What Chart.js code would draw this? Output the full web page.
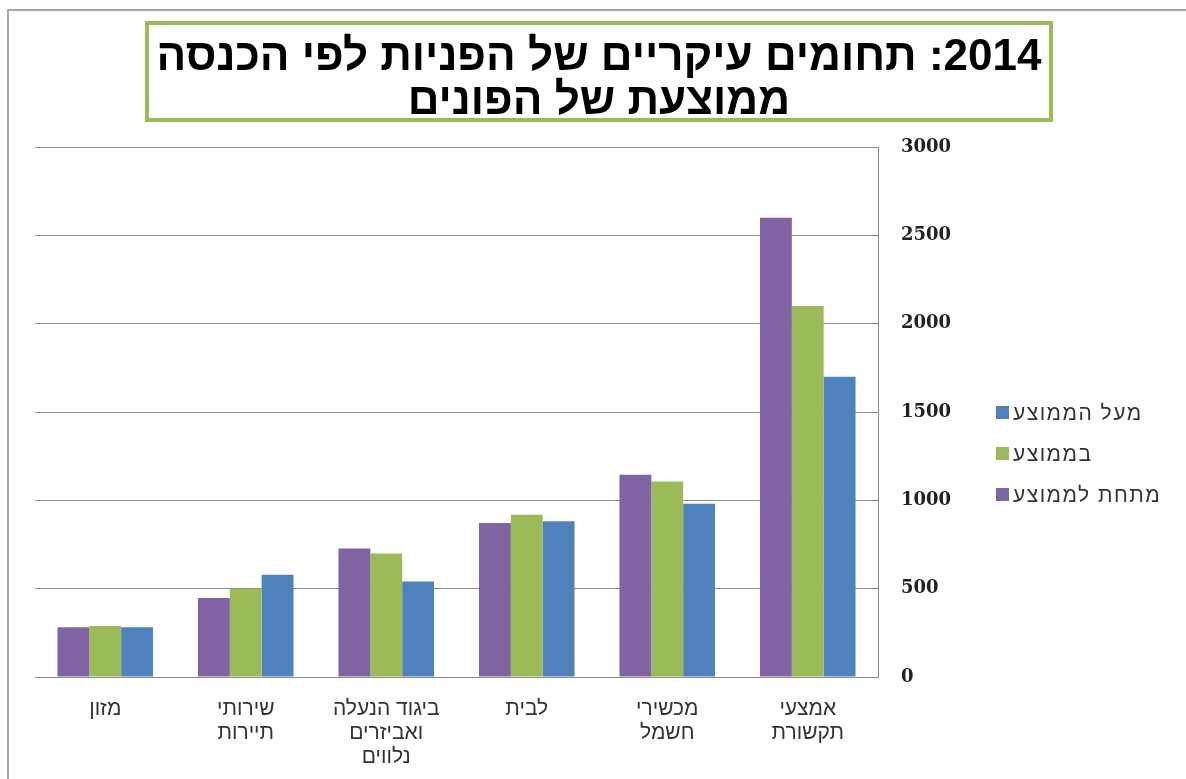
<!DOCTYPE html>
<html>
<head>
<meta charset="utf-8">
<script src="https://cdn.jsdelivr.net/npm/chart.js@4"></script>
<style>
    body { margin: 0; background: #fff; }
    #wrap { position: relative; width: 1186px; height: 779px; overflow: hidden; }
    #frame { position: absolute; left: 7px; top: 9px; right: -10px; bottom: -10px;
             border-left: 2px solid #a6a6a6; border-top: 2px solid #a6a6a6; }
    #title { position: absolute; left: 145px; top: 21px; width: 900px; height: 85px;
             border: 4px solid #9bbb59; text-align: center; direction: rtl;
             font: bold 44px "Liberation Sans", Arial, sans-serif; line-height: 44px;
             padding-top: 8px; color: #000; white-space: nowrap; }
    #legend { position: absolute; left: 996px; top: 392px; direction: ltr;
              font: 21px "Liberation Sans", Arial, sans-serif; color: #333; letter-spacing: 1.5px; }
    #legend div { height: 41px; display: flex; align-items: center; }
    #legend i { display: inline-block; width: 13px; height: 13px; margin-right: 4px; }
    #chart-box { position: absolute; left: 0; top: 0; width: 1186px; height: 779px; }
</style>
</head>
<body>
<div id="wrap">
    <div id="frame"></div>
    <div id="chart-box"><canvas id="bars"></canvas></div>
    <div id="title">2014: תחומים עיקריים של הפניות לפי הכנסה<br>ממוצעת של הפונים</div>
    <div id="legend"></div>
</div>
<script>
    // categories (right to left, like the original)
    const categories = [
        ['אמצעי', 'תקשורת'],
        ['מכשירי', 'חשמל'],
        ['לבית'],
        ['ביגוד הנעלה', 'ואביזרים', 'נלווים'],
        ['שירותי', 'תיירות'],
        ['מזון']
    ];
    const seriesNames = ['מתחת לממוצע', 'בממוצע', 'מעל הממוצע'];
    const belowAvg = [2600, 1145, 872, 728, 447, 282];
    const atAvg    = [2100, 1106, 918, 699, 500, 289];
    const aboveAvg = [1700, 980, 881, 541, 579, 282];
    const yTicks = [0, 500, 1000, 1500, 2000, 2500, 3000];
    const colors = ['#8064a2', '#9bbb59', '#4f81bd'];

    // legend is drawn as html so it can sit where the original has it
    const legendEl = document.getElementById('legend');
    [2, 1, 0].forEach(function (i) {
        const row = document.createElement('div');
        row.innerHTML = '<i style="background:' + colors[i] + '"></i><span dir="rtl">' + seriesNames[i] + '</span>';
        legendEl.appendChild(row);
    });

    const ctx = document.getElementById('bars').getContext('2d');
    new Chart(ctx, {
        type: 'bar',
        data: {
            labels: categories,
            datasets: [belowAvg, atAvg, aboveAvg].map(function (vals, i) {
                return {
                    label: seriesNames[i],
                    data: vals,
                    backgroundColor: colors[i],
                    borderWidth: 0,
                    categoryPercentage: 0.68,
                    barPercentage: 1.0
                };
            })
        },
        options: {
            responsive: true,
            maintainAspectRatio: false,
            animation: false,
            layout: { padding: { left: 35, top: 147, right: 208, bottom: 0 } },
            plugins: { legend: { display: false }, tooltip: { enabled: false } },
            scales: {
                x: {
                    reverse: true,
                    grid: { display: false },
                    border: { color: '#8c8c8c', width: 1 },
                    ticks: {
                        color: '#333',
                        padding: 12,
                        maxRotation: 0,
                        font: { family: '"Liberation Sans", Arial, sans-serif', size: 21, lineHeight: 1.15 }
                    },
                    afterFit: function (s) { s.height = 102; }
                },
                y: {
                    position: 'right',
                    min: 0,
                    max: 3000,
                    afterBuildTicks: function (s) { s.ticks = yTicks.map(function (v) { return { value: v }; }); },
                    grid: { color: '#8c8c8c', drawTicks: false },
                    border: { color: '#8c8c8c' },
                    ticks: {
                        color: '#222',
                        padding: 23,
                        callback: function (v) { return String(v); },
                        font: { family: '"DejaVu Serif", "Liberation Serif", serif', size: 18, weight: 'bold' }
                    },
                    afterFit: function (s) { s.width = 100; }
                }
            }
        }
    });
</script>
</body>
</html>
